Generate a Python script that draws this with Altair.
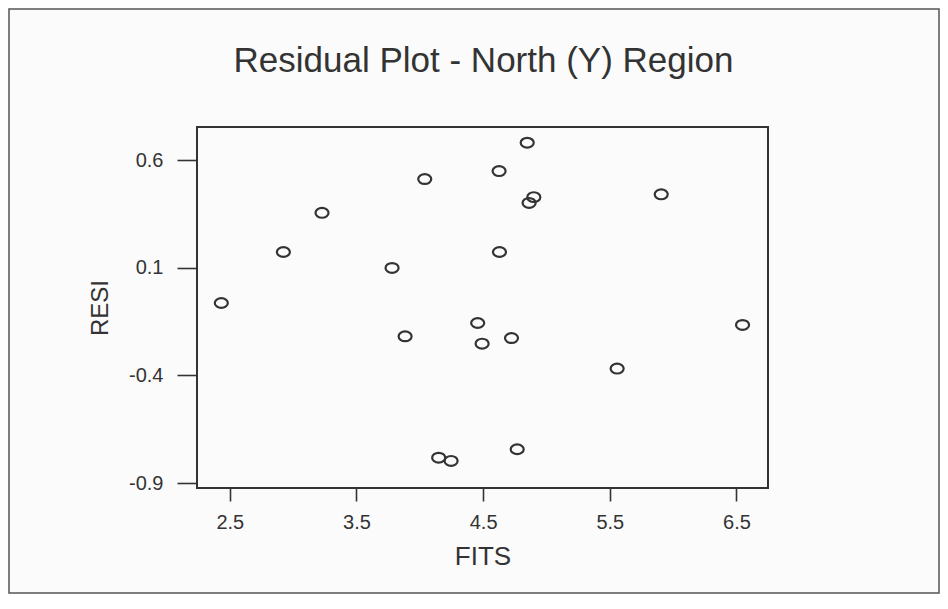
import altair as alt
import pandas as pd

# Data
fits = [2.433, 2.923, 3.228, 4.039, 3.781, 4.848, 4.626, 4.900, 4.863, 5.906,
        4.629, 3.884, 4.457, 4.492, 4.724, 5.558, 4.149, 4.247, 4.769, 6.548]
resi = [-0.063, 0.174, 0.356, 0.513, 0.100, 0.682, 0.550, 0.429, 0.402, 0.442,
        0.174, -0.218, -0.156, -0.252, -0.226, -0.368, -0.782, -0.797, -0.743, -0.165]
x_ticks = [2.5, 3.5, 4.5, 5.5, 6.5]
y_ticks = [-0.9, -0.4, 0.1, 0.6]
title_text = "Residual Plot - North (Y) Region"
x_title = "FITS"
y_title = "RESI"

df = pd.DataFrame({"FITS": fits, "RESI": resi})

W, H = 571, 361
PAD_L, PAD_T, PAD_R, PAD_B = 189, 119, 172, 106
INK = "#333333"
FONT = "Liberation Sans"

ellipse = "M-1,0 A1,0.75 0 1,0 1,0 A1,0.75 0 1,0 -1,0 Z"

axis_common = dict(labelFont=FONT, labelFontSize=20, labelColor=INK,
                   titleFont=FONT, titleColor=INK, titleFontWeight="normal",
                   tickColor=INK, tickWidth=1.6, grid=False, domain=False,
                   labelExpr="toString(datum.value)", titleBaseline="alphabetic")

points = alt.Chart(df).mark_point(
    shape=ellipse, size=170, filled=False, stroke=INK, strokeWidth=2.2, opacity=1
).encode(
    x=alt.X("FITS:Q",
            scale=alt.Scale(domain=[2.241, 6.749], nice=False, zero=False),
            axis=alt.Axis(values=x_ticks, title=x_title, tickSize=13, labelPadding=11,
                          titleY=76.5, titleFontSize=26, **axis_common)),
    y=alt.Y("RESI:Q",
            scale=alt.Scale(domain=[-0.923, 0.755], nice=False, zero=False),
            axis=alt.Axis(values=y_ticks, title=y_title, tickSize=20, labelPadding=14,
                          titleX=-90, titleY=H / 2, titleAngle=-90, titleAlign="center",
                          titleFontSize=24, **axis_common)),
)

title = alt.Chart(pd.DataFrame({"t": [title_text]})).mark_text(
    font=FONT, fontSize=35, color=INK, align="center", baseline="alphabetic"
).encode(x=alt.value(W / 2 + 1), y=alt.value(-54.6), text="t:N")

border = alt.Chart(pd.DataFrame({"b": [1]})).mark_rect(
    filled=False, stroke="#555555", strokeWidth=1.5, fill=None
).encode(x=alt.value(-PAD_L + 1), x2=alt.value(W + PAD_R - 1),
         y=alt.value(-PAD_T + 1), y2=alt.value(H + PAD_B - 1))

chart = alt.layer(border, points, title).properties(
    width=W, height=H,
    padding={"left": PAD_L, "top": PAD_T, "right": PAD_R, "bottom": PAD_B},
    autosize=alt.AutoSizeParams(type="none"),
    background="#fbfbfb",
).configure_view(
    stroke=INK, strokeWidth=2
)

chart.save("out.html", embed_options={"renderer": "svg", "actions": False})
